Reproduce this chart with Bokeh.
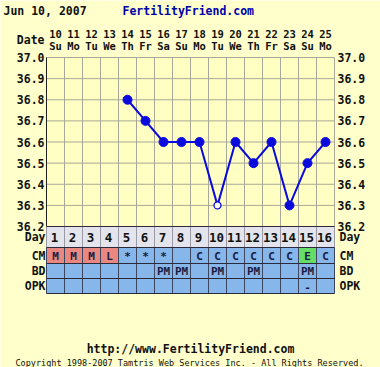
from bokeh.plotting import figure
from bokeh.models import Range1d
from bokeh.core.properties import value
from bokeh.embed import file_html
from bokeh.resources import INLINE

# ---------------- data ----------------
dates = [10, 11, 12, 13, 14, 15, 16, 17, 18, 19, 20, 21, 22, 23, 24, 25]
weekdays = ["Su", "Mo", "Tu", "We", "Th", "Fr", "Sa", "Su",
            "Mo", "Tu", "We", "Th", "Fr", "Sa", "Su", "Mo"]
cycle_days = [1, 2, 3, 4, 5, 6, 7, 8, 9, 10, 11, 12, 13, 14, 15, 16]
temps = [None, None, None, None, 36.8, 36.7, 36.6, 36.6,
         36.6, 36.3, 36.6, 36.5, 36.6, 36.3, 36.5, 36.6]
open_point = [False, False, False, False, False, False, False, False,
              False, True, False, False, False, False, False, False]
temp_ticks = [37.0, 36.9, 36.8, 36.7, 36.6, 36.5, 36.4, 36.3, 36.2]
cm = ["M", "M", "M", "L", "*", "*", "*", "", "C", "C", "C", "C", "C", "C", "E", "C"]
bd = ["", "", "", "", "", "", "PM", "PM", "", "PM", "", "PM", "", "", "PM", ""]
opk = ["", "", "", "", "", "", "", "", "", "", "", "", "", "", "-", ""]
row_names = ["Day", "CM", "BD", "OPK"]
header_date = "Jun 10, 2007"
site_name = "FertilityFriend.com"
site_url = "http://www.FertilityFriend.com"
copyright_text = "Copyright 1998-2007 Tamtris Web Services Inc. - All Rights Reserved."

# ---------------- layout ----------------
W, H = 380, 367          # figure size
MARGIN = 0               # page offset observed
X0, CW = 46, 18          # left edge of first column, column width (page px)
Y_TOP, Y_BOT = 57, 226   # page px of 37.0 and 36.2
T_TOP, T_BOT = 37.0, 36.2
PPD = (Y_BOT - Y_TOP) / (T_TOP - T_BOT)
N = len(dates)

OUTER = "#FFFFCC"
PLOT_BG = "#FFFFC4"
GRID = "#A8A898"
DAY_BG = "#E4E4EC"
BLUE = "#86B6EA"
RED = "#E88880"
GREEN = "#66DD66"
LINE_BLUE = "#0A0ADC"
TEXT = "#111111"
FONT = value("DejaVu Sans Mono")

x_range = Range1d((MARGIN - X0) / CW, (MARGIN + W - X0) / CW)
y_range = Range1d(T_BOT - (MARGIN + H - Y_BOT) / PPD, T_TOP + (Y_TOP - MARGIN) / PPD)

p = figure(width=W, height=H, x_range=x_range, y_range=y_range,
           output_backend="svg", toolbar_location=None,
           x_axis_location=None, y_axis_location=None,
           min_border=0, background_fill_color=OUTER, border_fill_color=OUTER,
           outline_line_color=None)
p.grid.visible = False
p.extra_y_ranges = {"px": Range1d(start=MARGIN + H, end=MARGIN)}


def cx(px):
    return (px - X0) / CW


centers = [i + 0.5 for i in range(N)]

# plot background
p.quad(left=[0], right=[N], bottom=[T_BOT], top=[T_TOP], fill_color=PLOT_BG, line_color=None)

# grid
p.segment(x0=list(range(N + 1)), x1=list(range(N + 1)), y0=[T_BOT] * (N + 1), y1=[T_TOP] * (N + 1),
          line_color=GRID, line_width=1)
p.segment(x0=[0] * len(temp_ticks), x1=[N] * len(temp_ticks), y0=temp_ticks, y1=temp_ticks,
          line_color=GRID, line_width=1)
p.segment(x0=[0], x1=[0], y0=[T_BOT], y1=[T_TOP], line_color="#222222", line_width=1)

# temperature labels both sides
tick_txt = ["%.1f" % t for t in temp_ticks]
p.text(x=[cx(44)] * len(temp_ticks), y=temp_ticks, text=tick_txt, text_align="right",
       text_baseline="middle", text_font=FONT, text_font_style="bold",
       text_font_size="11.5px", text_color=TEXT)
p.text(x=[cx(337)] * len(temp_ticks), y=temp_ticks, text=tick_txt, text_align="left",
       text_baseline="middle", text_font=FONT, text_font_style="bold",
       text_font_size="11.5px", text_color=TEXT)

# temperature line and points
pts = [(c, t, o) for c, t, o in zip(centers, temps, open_point) if t is not None]
p.line(x=[a for a, _, _ in pts], y=[b for _, b, _ in pts], line_color=LINE_BLUE, line_width=2)
p.scatter(x=[a for a, _, o in pts if not o], y=[b for _, b, o in pts if not o],
          marker="circle", size=9, fill_color=LINE_BLUE, line_color=LINE_BLUE)
p.scatter(x=[a for a, _, o in pts if o], y=[b for _, b, o in pts if o],
          marker="circle", size=7, fill_color="white", line_color=LINE_BLUE, line_width=1.3)

# ---------------- table ----------------
row_top = [226, 247, 263, 278]
row_bot = [247, 263, 278, 293]
row_mid = [(a + b) / 2 for a, b in zip(row_top, row_bot)]
p.quad(left=[0], right=[N], top=[row_top[0]], bottom=[row_bot[0]], fill_color=DAY_BG,
       line_color=None, y_range_name="px")
p.quad(left=[0], right=[N], top=[row_top[1]], bottom=[row_bot[3]], fill_color=BLUE,
       line_color=None, y_range_name="px")
cm_colors = {"M": RED, "L": RED, "E": GREEN}
cm_idx = [i for i, c in enumerate(cm) if c in cm_colors]
p.quad(left=[i for i in cm_idx], right=[i + 1 for i in cm_idx],
       top=[row_top[1]] * len(cm_idx), bottom=[row_bot[1]] * len(cm_idx),
       fill_color=[cm_colors[cm[i]] for i in cm_idx], line_color=None, y_range_name="px")

# table lines
p.segment(x0=list(range(N + 1)), x1=list(range(N + 1)), y0=[row_top[0]] * (N + 1),
          y1=[row_bot[0]] * (N + 1), line_color="#9A9AA6", line_width=1, y_range_name="px")
p.segment(x0=list(range(N + 1)), x1=list(range(N + 1)), y0=[row_top[1]] * (N + 1),
          y1=[row_bot[3]] * (N + 1), line_color="#3C4660", line_width=1, y_range_name="px")
p.segment(x0=[0] * 5, x1=[N] * 5, y0=row_top + [row_bot[3]], y1=row_top + [row_bot[3]],
          line_color="#2A2A3A", line_width=1, y_range_name="px")

# table texts
p.text(x=[c - 1 / CW for c in centers], y=[row_mid[0]] * N, text=[str(d) for d in cycle_days],
       text_align="center", text_baseline="middle", text_font=FONT, text_font_style="bold",
       text_font_size="12.5px", text_color=TEXT, y_range_name="px")
for vals, r in ((cm, 1), (bd, 2), (opk, 3)):
    p.text(x=centers, y=[row_mid[r] + 0.5] * N, text=vals, text_align="center",
           text_baseline="middle", text_font=FONT, text_font_style="bold",
           text_font_size="11px", text_color="#1A1A40", y_range_name="px")

p.text(x=[cx(45)] * 4, y=row_mid, text=row_names, text_align="right", text_baseline="middle",
       text_font=FONT, text_font_style="bold", text_font_size="11.5px", text_color=TEXT,
       y_range_name="px")
p.text(x=[cx(339)] * 4, y=row_mid, text=row_names, text_align="left", text_baseline="middle",
       text_font=FONT, text_font_style="bold", text_font_size="11.5px", text_color=TEXT,
       y_range_name="px")

# ---------------- header ----------------
p.text(x=centers, y=[33] * N, text=[str(d) for d in dates], text_align="center",
       text_baseline="middle", text_font=FONT, text_font_style="bold",
       text_font_size="10.5px", text_color=TEXT, y_range_name="px")
p.text(x=centers, y=[45] * N, text=weekdays, text_align="center",
       text_baseline="middle", text_font=FONT, text_font_style="bold",
       text_font_size="10.5px", text_color=TEXT, y_range_name="px")
p.text(x=[cx(44)], y=[39], text=["Date"], text_align="right", text_baseline="middle",
       text_font=FONT, text_font_style="bold", text_font_size="11.5px", text_color=TEXT,
       y_range_name="px")
p.text(x=[cx(3)], y=[10], text=[header_date], text_align="left", text_baseline="middle",
       text_font=FONT, text_font_style="bold", text_font_size="11.5px", text_color=TEXT,
       y_range_name="px")
p.text(x=[cx(122)], y=[10], text=[site_name], text_align="left", text_baseline="middle",
       text_font=FONT, text_font_style="bold", text_font_size="11.5px", text_color="#0000AA",
       y_range_name="px")

# ---------------- footer ----------------
p.text(x=[cx(190)], y=[348], text=[site_url], text_align="center", text_baseline="middle",
       text_font=FONT, text_font_style="bold", text_font_size="11.5px", text_color=TEXT,
       y_range_name="px")
p.text(x=[cx(189)], y=[362], text=[copyright_text], text_align="center", text_baseline="middle",
       text_font=FONT, text_font_size="8.5px", text_color=TEXT, y_range_name="px")

open("out.html", "w").write(file_html(p, INLINE))
